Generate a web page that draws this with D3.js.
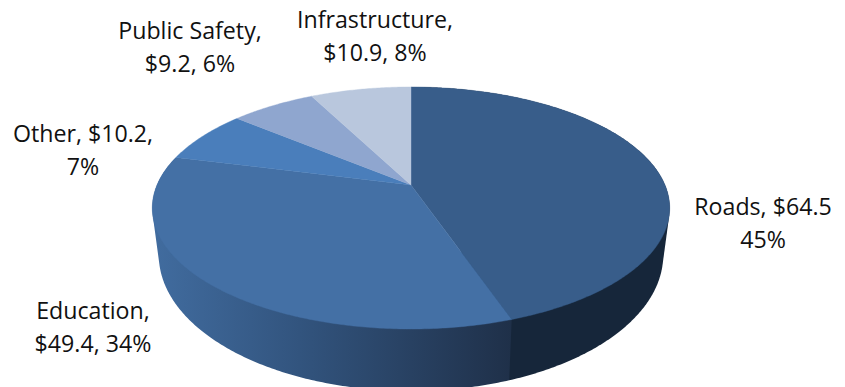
<!DOCTYPE html>
<html>
<head>
<meta charset="utf-8">
<script src="https://cdn.jsdelivr.net/npm/d3@7"></script>
<style>
  html, body { margin: 0; padding: 0; background: #fff; overflow: hidden; }
  text { font-family: "Open Sans", sans-serif; font-size: 23.2px; fill: #111; text-anchor: middle; }
</style>
</head>
<body>
<svg id="chart" width="845" height="387"></svg>
<script>
// Budget shares, in $ and whole percent
const categories = ["Roads", "Education", "Other", "Public Safety", "Infrastructure"];
const amounts = [64.5, 49.4, 10.2, 9.2, 10.9];
const percents = [45, 34, 7, 6, 8];
const labelLines = [
  ["Roads, $64.5", "45%"],
  ["Education,", "$49.4, 34%"],
  ["Other, $10.2,", "7%"],
  ["Public Safety,", "$9.2, 6%"],
  ["Infrastructure,", "$10.9, 8%"]
];
const topColors = ["#385d8a", "#4470a5", "#4a7ebb", "#8fa6cf", "#b9c7dd"];

const svg = d3.select("#chart");
const defs = svg.append("defs");

// Tilted disc: a unit circle projected with perspective onto the page
const cx = 411, apexY = 185;
const persp = -0.19, xScale = 254, yScale = 81.5;

// The lower rim is the upper rim's ellipse, re-centred and rescaled
const rimCentreY = 208, baseCentreY = 255;
const baseScaleX = 252 / 258.5, baseScaleY = 136 / 121;

function project(angle, onBase) {
  const X = Math.sin(angle), Y = -Math.cos(angle);
  const w = 1 + persp * Y;
  const px = cx + xScale * X / w;
  const py = (yScale * Y + apexY) / w;
  return onBase
    ? [cx + baseScaleX * (px - cx), baseCentreY + baseScaleY * (py - rimCentreY)]
    : [px, py];
}

const pie = d3.pie().value(d => d).sort(null);
const slices = pie(amounts);
const line = d3.line();

function rim(s, onBase) {
  const n = Math.max(2, Math.ceil((s.endAngle - s.startAngle) / 0.01));
  return d3.range(n + 1).map(i =>
    project(s.startAngle + (s.endAngle - s.startAngle) * i / n, onBase));
}

// Side wall colours run left to right across the front of the disc
const eduGrad = defs.append("linearGradient").attr("id", "wall-education")
  .attr("gradientUnits", "userSpaceOnUse")
  .attr("x1", 153).attr("x2", 511).attr("y1", 0).attr("y2", 0);
eduGrad.append("stop").attr("offset", 0).attr("stop-color", "#416c9f");
eduGrad.append("stop").attr("offset", 0.41).attr("stop-color", "#32547e");
eduGrad.append("stop").attr("offset", 1).attr("stop-color", "#1f3049");

const wallFill = ["#16263a", "url(#wall-education)"];

// Only the two front slices show a wall; each wall is the hull of its two rims
svg.append("g").selectAll("path").data(slices.slice(0, 2)).join("path")
  .attr("d", s => line(d3.polygonHull(rim(s, false).concat(rim(s, true)))) + "Z")
  .attr("fill", (s, i) => wallFill[i]);

// Top face
svg.append("g").selectAll("path").data(slices).join("path")
  .attr("d", s => line([[cx, apexY]].concat(rim(s, false))) + "Z")
  .attr("fill", (s, i) => topColors[i])
  .attr("stroke", (s, i) => topColors[i])
  .attr("stroke-width", 0.4);

// Two-line data labels, placed by centre and first baseline
const labelAnchors = [[763, 215], [93, 319], [83, 142], [190, 39], [375, 28]];
const labels = svg.append("g").selectAll("text").data(labelLines).join("text")
  .attr("transform", (d, i) => `translate(${labelAnchors[i]})`);
labels.selectAll("tspan").data(d => d).join("tspan")
  .attr("x", 0).attr("y", (d, i) => i * 33)
  .text(d => d);
</script>
</body>
</html>
